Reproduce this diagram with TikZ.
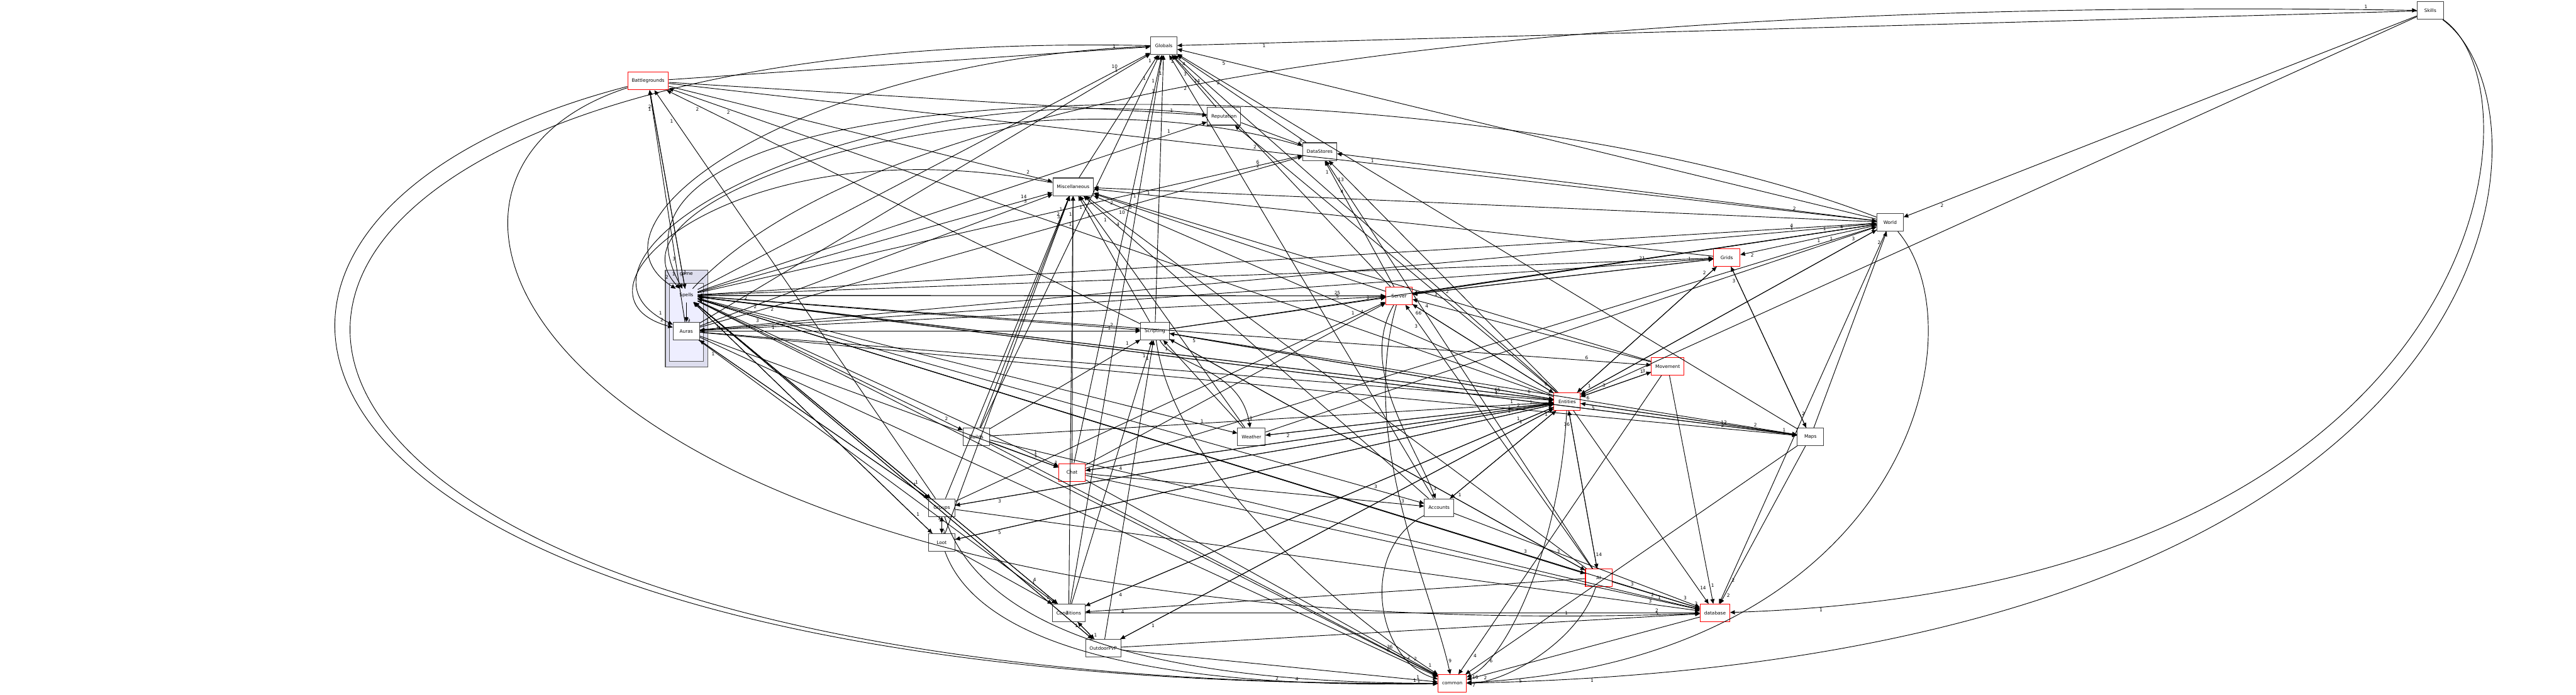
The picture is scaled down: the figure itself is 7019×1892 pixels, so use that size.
\documentclass[tikz,border=0pt]{standalone}
\usepackage{fontspec}
\setmainfont{DejaVu Sans}
\usetikzlibrary{arrows.meta}
\tikzset{
  dnode/.style={draw=black!75, line width=0.5pt, fill=white, minimum width=0.72cm, minimum height=0.48cm, inner xsep=0.11cm, font=\fontsize{3.6}{4}\selectfont},
  rnode/.style={dnode, draw=red},
  dep/.style={-{Triangle[length=3.6pt,width=3.2pt]}, line width=0.45pt, black},
  lab/.style={font=\fontsize{3.6}{4}\selectfont, inner sep=0.5pt, auto}
}
\newcommand{\dep}[3]{\draw[dep] (#1) -- (#2) node[lab,pos=0.93]{#3};}
\newcommand{\qdep}[5]{\draw[dep] (#1) .. controls #4 and #5 .. (#2) node[lab,pos=0.96]{#3};}
\begin{document}
\begin{tikzpicture}[x=0.01cm,y=-0.01cm]
\useasboundingbox (0,0) rectangle (7019,1892);
\fill[white] (0,0) rectangle (7019,1892);
% cluster
\filldraw[fill={rgb,255:red,221;green,221;blue,238}, draw=black!65, line width=0.5pt] (1813,736) rectangle (1928,1000);
\node[font=\fontsize{3.6}{4}\selectfont] at (1870,748) {game};
\filldraw[fill={rgb,255:red,238;green,238;blue,255}, draw=black!65, line width=0.5pt] (1824,772) rectangle (1917,985);
\node[font=\fontsize{3.6}{4}\selectfont] (spells) at (1870,805) {Spells};
\node[dnode] (auras) at (1870,902) {Auras};
% nodes
\node[dnode] (skills) at (6622,29) {Skills};
\node[dnode] (globals) at (3171,125) {Globals};
\node[rnode] (battlegrounds) at (1766,221) {Battlegrounds};
\node[dnode] (reputation) at (3335,317) {Reputation};
\node[dnode] (datastores) at (3596,413) {DataStores};
\node[dnode] (misc) at (2924,509) {Miscellaneous};
\node[dnode] (world) at (5150,606) {World};
\node[rnode] (grids) at (4705,702) {Grids};
\node[rnode] (server) at (3812,806) {Server};
\node[dnode] (scripting) at (3147,902) {Scripting};
\node[rnode] (movement) at (4544,998) {Movement};
\node[rnode] (entities) at (4270,1094) {Entities};
\node[dnode] (guilds) at (2660,1190) {Guilds};
\node[dnode] (weather) at (3410,1190) {Weather};
\node[dnode] (maps) at (4933,1190) {Maps};
\node[rnode] (chat) at (2921,1287) {Chat};
\node[dnode] (groups) at (2566,1383) {Groups};
\node[dnode] (accounts) at (3921,1383) {Accounts};
\node[dnode] (loot) at (2566,1478) {Loot};
\node[rnode] (ai) at (4356,1574) {AI};
\node[dnode] (conditions) at (2912,1670) {Conditions};
\node[rnode] (database) at (4673,1670) {database};
\node[dnode] (outdoorpvp) at (3006,1766) {OutdoorPvP};
\node[rnode] (common) at (3957,1862) {common};
% edges from Spells / Auras
\dep{spells}{auras}{9}
\dep{spells}{globals}{10}
\dep{spells}{battlegrounds}{2}
\dep{spells}{reputation}{1}
\dep{spells}{datastores}{6}
\dep{spells}{misc}{14}
\dep{spells}{server}{25}
\dep{spells}{scripting}{2}
\dep{spells}{guilds}{2}
\dep{spells}{chat}{1}
\dep{spells}{entities}{65}
\dep{spells}{groups}{1}
\dep{spells}{loot}{1}
\dep{spells}{accounts}{3}
\dep{spells}{ai}{3}
\dep{spells}{movement}{6}
\dep{spells}{world}{4}
\dep{spells}{grids}{21}
\dep{spells}{conditions}{4}
\dep{spells}{weather}{1}
\dep{spells}{maps}{12}
\dep{spells}{outdoorpvp}{2}
\dep{spells}{database}{3}
\dep{spells}{common}{36}
\qdep{spells}{skills}{1}{(2600,20)}{(5500,10)}
\dep{auras}{entities}{4}
\dep{auras}{server}{5}
\dep{auras}{misc}{3}
\dep{auras}{globals}{1}
\dep{auras}{datastores}{2}
\dep{auras}{scripting}{1}
\dep{auras}{battlegrounds}{1}
\dep{auras}{groups}{1}
\dep{auras}{chat}{1}
\dep{auras}{maps}{2}
\dep{auras}{common}{6}
\dep{auras}{world}{1}
\dep{auras}{conditions}{1}
% edges into Spells / Auras, several routed round the left
\dep{entities}{spells}{2}
\dep{ai}{spells}{3}
\dep{battlegrounds}{spells}{1}
\dep{scripting}{auras}{1}
\dep{server}{spells}{2}
\dep{groups}{auras}{1}
\dep{loot}{spells}{1}
\dep{maps}{spells}{2}
\dep{grids}{auras}{1}
\dep{conditions}{spells}{1}
\dep{outdoorpvp}{spells}{1}
\qdep{world}{spells}{3}{(4000,160)}{(1500,150)}
\qdep{globals}{spells}{2}{(2200,160)}{(1550,600)}
\qdep{datastores}{spells}{1}{(2800,170)}{(1600,520)}
\qdep{reputation}{auras}{1}{(2300,200)}{(1450,700)}
\qdep{misc}{auras}{2}{(2000,330)}{(1500,800)}
% other edges
\dep{entities}{globals}{24}
\dep{entities}{datastores}{13}
\dep{entities}{misc}{10}
\dep{entities}{scripting}{5}
\dep{entities}{reputation}{2}
\dep{entities}{battlegrounds}{2}
\dep{entities}{server}{66}
\dep{entities}{chat}{4}
\dep{entities}{groups}{3}
\dep{entities}{loot}{5}
\dep{entities}{accounts}{1}
\dep{entities}{ai}{14}
\dep{entities}{movement}{3}
\dep{entities}{world}{3}
\dep{entities}{grids}{2}
\dep{entities}{maps}{1}
\dep{entities}{weather}{2}
\dep{entities}{conditions}{4}
\dep{entities}{outdoorpvp}{1}
\qdep{entities}{common}{16}{(4250,1500)}{(4100,1800)}
\dep{entities}{database}{14}
\dep{movement}{entities}{6}
\dep{movement}{common}{4}
\dep{movement}{database}{1}
\dep{movement}{server}{4}
\dep{movement}{misc}{3}
\dep{ai}{entities}{36}
\dep{ai}{misc}{4}
\dep{ai}{scripting}{1}
\dep{ai}{server}{3}
\dep{ai}{datastores}{4}
\dep{ai}{database}{3}
\dep{ai}{conditions}{4}
\qdep{ai}{common}{7}{(4300,1750)}{(4100,1860)}
\dep{server}{entities}{6}
\dep{server}{globals}{3}
\dep{server}{misc}{2}
\dep{server}{datastores}{1}
\qdep{server}{accounts}{3}{(3700,1000)}{(3850,1200)}
\dep{server}{world}{4}
\qdep{server}{common}{9}{(3700,1200)}{(3900,1600)}
\dep{server}{grids}{1}
\dep{chat}{entities}{2}
\dep{chat}{globals}{1}
\dep{chat}{misc}{1}
\dep{chat}{server}{4}
\dep{chat}{accounts}{3}
\dep{chat}{common}{2}
\dep{chat}{world}{1}
\dep{chat}{database}{1}
\dep{groups}{loot}{1}
\dep{loot}{groups}{1}
\dep{groups}{entities}{1}
\dep{groups}{misc}{2}
\dep{groups}{battlegrounds}{1}
\dep{groups}{server}{1}
\qdep{groups}{common}{1}{(2700,1800)}{(3400,1860)}
\dep{groups}{database}{3}
\dep{loot}{entities}{1}
\dep{loot}{misc}{3}
\qdep{loot}{common}{1}{(2700,1850)}{(3500,1870)}
\dep{loot}{conditions}{1}
\dep{guilds}{chat}{1}
\dep{guilds}{entities}{1}
\dep{guilds}{misc}{1}
\dep{guilds}{globals}{1}
\dep{guilds}{scripting}{1}
\dep{guilds}{common}{2}
\dep{guilds}{database}{2}
\dep{reputation}{datastores}{3}
\dep{reputation}{globals}{1}
\dep{scripting}{entities}{6}
\dep{scripting}{globals}{1}
\dep{scripting}{misc}{1}
\dep{scripting}{battlegrounds}{2}
\dep{scripting}{ai}{3}
\dep{scripting}{maps}{2}
\dep{scripting}{world}{1}
\dep{scripting}{server}{1}
\qdep{scripting}{weather}{1}{(3200,1000)}{(3380,1000)}
\qdep{scripting}{common}{1}{(3200,1300)}{(3700,1700)}
\dep{battlegrounds}{globals}{1}
\dep{battlegrounds}{misc}{2}
\dep{battlegrounds}{reputation}{1}
\dep{battlegrounds}{world}{2}
\qdep{battlegrounds}{common}{4}{(300,600)}{(600,1880)}
\qdep{globals}{common}{2}{(100,60)}{(120,1880)}
\qdep{battlegrounds}{database}{1}{(900,500)}{(1500,1780)}
\dep{accounts}{globals}{2}
\dep{accounts}{misc}{1}
\dep{accounts}{entities}{1}
\dep{accounts}{database}{3}
\qdep{accounts}{common}{1}{(3700,1500)}{(3750,1800)}
\dep{misc}{globals}{1}
\dep{datastores}{globals}{4}
\dep{world}{globals}{5}
\dep{world}{entities}{3}
\dep{world}{server}{2}
\dep{world}{misc}{1}
\dep{world}{datastores}{1}
\dep{world}{grids}{2}
\qdep{world}{common}{5}{(5400,900)}{(5200,1800)}
\dep{world}{database}{2}
\dep{grids}{entities}{1}
\dep{grids}{maps}{2}
\dep{grids}{misc}{1}
\dep{grids}{server}{1}
\dep{conditions}{entities}{1}
\dep{conditions}{globals}{1}
\dep{conditions}{scripting}{1}
\dep{conditions}{misc}{1}
\dep{conditions}{outdoorpvp}{1}
\dep{conditions}{database}{2}
\dep{outdoorpvp}{conditions}{1}
\dep{outdoorpvp}{entities}{1}
\dep{outdoorpvp}{scripting}{1}
\dep{outdoorpvp}{common}{1}
\dep{outdoorpvp}{database}{5}
\dep{weather}{entities}{1}
\dep{weather}{world}{1}
\dep{weather}{misc}{1}
\dep{weather}{scripting}{1}
\dep{maps}{entities}{5}
\dep{maps}{grids}{3}
\dep{maps}{world}{2}
\dep{maps}{globals}{2}
\dep{maps}{common}{6}
\dep{maps}{database}{2}
\dep{database}{common}{2}
\dep{skills}{globals}{1}
\dep{skills}{world}{2}
\dep{skills}{entities}{1}
\qdep{skills}{common}{1}{(6990,300)}{(6900,1800)}
\qdep{skills}{database}{1}{(6940,250)}{(6800,1600)}
\end{tikzpicture}
\end{document}
